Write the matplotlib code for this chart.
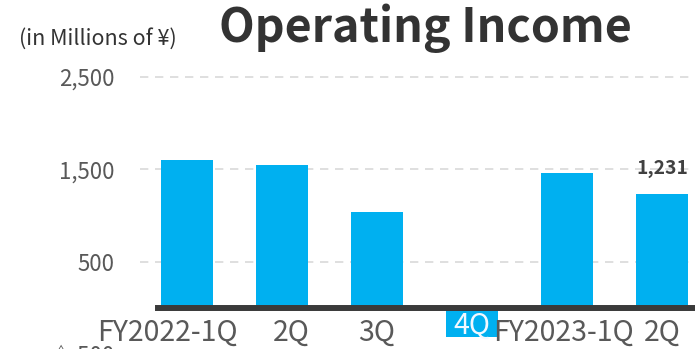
import matplotlib
matplotlib.use("Agg")
import matplotlib.pyplot as plt
import matplotlib.transforms as mtransforms
from matplotlib.ticker import FuncFormatter

plt.rcParams['font.family'] = ['Noto Sans CJK JP', 'DejaVu Sans']

# Quarterly operating income (millions of yen)
categories = ["FY2022-1Q", "2Q", "3Q", "4Q", "FY2023-1Q", "2Q"]
values = [1600, 1546, 1038, -313, 1459, 1231]
labelled = {5: 1231}
y_ticks = [2500, 1500, 500, -500]

bar_color = "#00B0F0"
text_gray = "#595959"
dark = "#333333"

fig = plt.figure(figsize=(6.95, 3.49), dpi=100)
ax = fig.add_axes([139.5 / 695, -0.0415, 570 / 695, 0.835])

x = list(range(len(categories)))
ax.bar(x, values, width=0.55, color=bar_color, zorder=2)

ax.set_xlim(-0.5, 5.5)
ax.set_ylim(-600, 2550)

# dashed horizontal gridlines behind the bars
ax.set_yticks(y_ticks)
ax.yaxis.set_major_formatter(
    FuncFormatter(lambda v, _: f"△ {abs(int(v)):,}" if v < 0 else f"{int(v):,}"))
ax.grid(axis="y", color="#D9D9D9", linewidth=1.2, linestyle=(0, (5, 4)))
ax.yaxis.set_zorder(0.5)
ax.tick_params(axis="y", length=0, pad=18, labelsize=16, labelcolor=text_gray)

# zero baseline as the bottom spine
for side in ("top", "right", "left"):
    ax.spines[side].set_visible(False)
ax.spines["bottom"].set_position(("data", 0))
ax.spines["bottom"].set_linewidth(4.3)
ax.spines["bottom"].set_color("#3A3A3A")
ax.spines["bottom"].set_bounds(-0.31, 5.6)
ax.spines["bottom"].set_zorder(3)

# category labels sit over the bars (the 4Q label lies on its negative bar)
ax.xaxis.set_zorder(5)
ax.set_xticks(x)
ax.set_xticklabels(categories)
ax.tick_params(axis="x", length=0, pad=7, labelsize=20.5, labelcolor=text_gray)
ticklabels = ax.get_xticklabels()
ticklabels[3].set_color("#F2F8FF")
shifts = {0: (-20, 0), 1: (9, 0), 3: (0, 7), 4: (-4, 0)}
for i, (dx, dy) in shifts.items():
    ticklabels[i].set_transform(ticklabels[i].get_transform()
                                + mtransforms.ScaledTranslation(dx / 100, dy / 100, fig.dpi_scale_trans))

for i, v in labelled.items():
    ax.annotate(f"{v:,}", (i, v), xytext=(0, 11.5), textcoords="offset points",
                ha="center", va="bottom", fontsize=13.8, fontweight="bold", color="#404040")

fig.text(425 / 695, 1 - 28 / 349, "Operating Income", ha="center", va="center",
         fontsize=33.5, fontweight="bold", color=dark)
fig.text(19 / 695, 1 - 39 / 349, "(in Millions of ¥)", ha="left", va="center",
         fontsize=15.5, color=dark)

fig.savefig("out.png", dpi=100)
